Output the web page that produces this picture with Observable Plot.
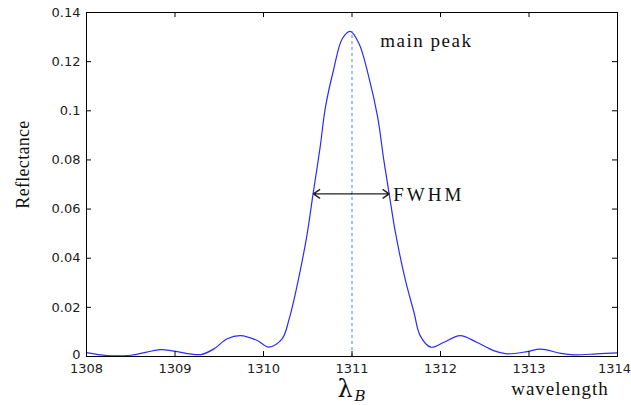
<!DOCTYPE html>
<html>
<head>
<meta charset="utf-8">
<script src="https://cdn.jsdelivr.net/npm/d3@7"></script>
<script src="https://cdn.jsdelivr.net/npm/@observablehq/plot@0.6"></script>
<style>
  html, body { margin: 0; padding: 0; background: #fff; }
</style>
</head>
<body>
<div id="chart"></div>
<script>
// Wavelength (nm) samples of the reflection spectrum
const wavelength = [
  1308.00, 1308.23, 1308.50, 1308.84, 1308.99, 1309.29, 1309.44, 1309.59, 1309.74, 1309.93,
  1310.06, 1310.21, 1310.29, 1310.38, 1310.49, 1310.56, 1310.64, 1310.70, 1310.79, 1310.89,
  1310.98, 1311.08, 1311.19, 1311.29, 1311.36, 1311.42, 1311.49, 1311.60, 1311.70, 1311.77,
  1311.89, 1312.04, 1312.22, 1312.41, 1312.60, 1312.75, 1312.98, 1313.13, 1313.36, 1313.51,
  1313.77, 1314.00
];
// Reflectance values
const reflectance = [
  0.0016, 0.0004, 0.0005, 0.0028, 0.0022, 0.0008, 0.0031, 0.0072, 0.0085, 0.0065,
  0.0038, 0.0072, 0.0153, 0.0289, 0.0492, 0.0662, 0.0852, 0.1015, 0.1164, 0.1293,
  0.1323, 0.1273, 0.1137, 0.0974, 0.0798, 0.0662, 0.0506, 0.0316, 0.0180, 0.0085,
  0.0038, 0.0058, 0.0085, 0.0058, 0.0024, 0.0011, 0.0020, 0.0030, 0.0013, 0.0007,
  0.0011, 0.0015
];
const xTicks = [1308, 1309, 1310, 1311, 1312, 1313, 1314];
const yTicks = [0, 0.02, 0.04, 0.06, 0.08, 0.1, 0.12, 0.14];

// Annotations
const braggWavelength = 1311;
const peakValue = 0.1323;
const fwhmLeft = 1310.565;
const fwhmRight = 1311.42;
const halfMax = 0.0662;
const peakLabelX = 1311.32;
const peakLabelY = 0.1258;
const wavelengthLabelX = 1313.35;

const spectrum = wavelength.map((w, i) => ({w, r: reflectance[i]}));
const fwhmMid = (fwhmLeft + fwhmRight) / 2;
const fwhmArrows = [
  {x1: fwhmMid, x2: fwhmLeft, y: halfMax},
  {x1: fwhmMid, x2: fwhmRight, y: halfMax}
];

const W = 631, H = 405;
const mL = 86, mR = 14, mT = 12, mB = 49;
const plotW = W - mL - mR, plotH = H - mT - mB;

const chart = Plot.plot({
  width: W,
  height: H,
  marginLeft: mL,
  marginRight: mR,
  marginTop: mT,
  marginBottom: mB,
  style: {fontFamily: "DejaVu Sans", fontSize: "13px", background: "#fff", color: "#222"},
  x: {domain: [1308, 1314], axis: null},
  y: {domain: [0, 0.14], axis: null},
  marks: [
    // dashed Bragg line
    Plot.ruleX([braggWavelength], {x: d => d, y1: 0, y2: peakValue, stroke: "#6f9bd1", strokeWidth: 1.2, strokeDasharray: "3,3"}),
    // spectrum
    Plot.line(spectrum, {x: "w", y: "r", stroke: "#2b2bff", strokeWidth: 1.2, curve: "catmull-rom"}),
    // FWHM double arrow
    Plot.arrow(fwhmArrows, {
      x1: "x1", x2: "x2", y1: "y", y2: "y",
      stroke: "#222", strokeWidth: 1.4, headLength: 8, headAngle: 70
    }),
    // frame
    Plot.frame({stroke: "#000", strokeWidth: 1}),
    // inward ticks (all four sides)
    Plot.tickX(xTicks, {x: d => d, insetTop: plotH - 5, stroke: "#000"}),
    Plot.tickX(xTicks, {x: d => d, insetBottom: plotH - 5, stroke: "#000"}),
    Plot.tickY(yTicks, {y: d => d, insetRight: plotW - 5, stroke: "#000"}),
    Plot.tickY(yTicks, {y: d => d, insetLeft: plotW - 5, stroke: "#000"}),
    // tick labels
    Plot.axisX(xTicks, {tickSize: 0, tickPadding: 7, label: null, tickFormat: d => String(d), fill: "#222"}),
    Plot.axisY(yTicks, {tickSize: 0, tickPadding: 6, label: null, tickFormat: d => String(d), fill: "#222"}),
    // annotations
    Plot.text(["main peak"], {x: peakLabelX, y: peakLabelY, text: d => d, textAnchor: "start", lineAnchor: "bottom",
      fontFamily: "Liberation Serif", fontSize: 19, fill: "#111"}),
    Plot.text(["FWHM"], {x: fwhmRight, y: halfMax, text: d => d, textAnchor: "start", lineAnchor: "bottom", dx: 4, dy: 7,
      fontFamily: "Liberation Serif", fontSize: 19, fill: "#111"}),
    Plot.text(["Reflectance"], {frameAnchor: "left", text: d => d, rotate: -90, textAnchor: "middle", lineAnchor: "middle",
      dx: -63, dy: -20, fontFamily: "Liberation Serif", fontSize: 18, fill: "#111"}),
    Plot.text(["wavelength"], {x: wavelengthLabelX, frameAnchor: "bottom", text: d => d, lineAnchor: "bottom", dy: 38,
      fontFamily: "Liberation Serif", fontSize: 19, fill: "#111"}),
    Plot.text(["λ"], {x: braggWavelength, frameAnchor: "bottom", text: d => d, lineAnchor: "bottom", dx: -7, dy: 40,
      fontFamily: "DejaVu Serif", fontSize: 24, fill: "#111"}),
    Plot.text(["B"], {x: braggWavelength, frameAnchor: "bottom", text: d => d, lineAnchor: "bottom", dx: 8, dy: 44,
      fontFamily: "DejaVu Serif", fontStyle: "italic", fontSize: 15, fill: "#111"})
  ]
});

// widen serif annotation text to match the reference's wide rendering
d3.select(chart).selectAll('g[aria-label="text"] text').each(function() {
  const t = this.textContent;
  if (t === "main peak") this.setAttribute("letter-spacing", "1.5px");
  if (t === "FWHM") this.setAttribute("letter-spacing", "3px");
  if (t === "wavelength") this.setAttribute("letter-spacing", "1px");
  if (t === "Reflectance") this.setAttribute("letter-spacing", "0.3px");
});
// keep the last x tick label inside the picture
d3.select(chart).selectAll('g[aria-label="x-axis tick label"] text').each(function() {
  if (this.textContent === "1314") this.setAttribute("dx", "-3");
});
// lift the "0" y label slightly so it clears "1308"
d3.select(chart).selectAll('g[aria-label="y-axis tick label"] text').each(function() {
  if (this.textContent === "0") this.setAttribute("dy", "-0.1em");
});

document.getElementById("chart").appendChild(chart);
</script>
</body>
</html>
